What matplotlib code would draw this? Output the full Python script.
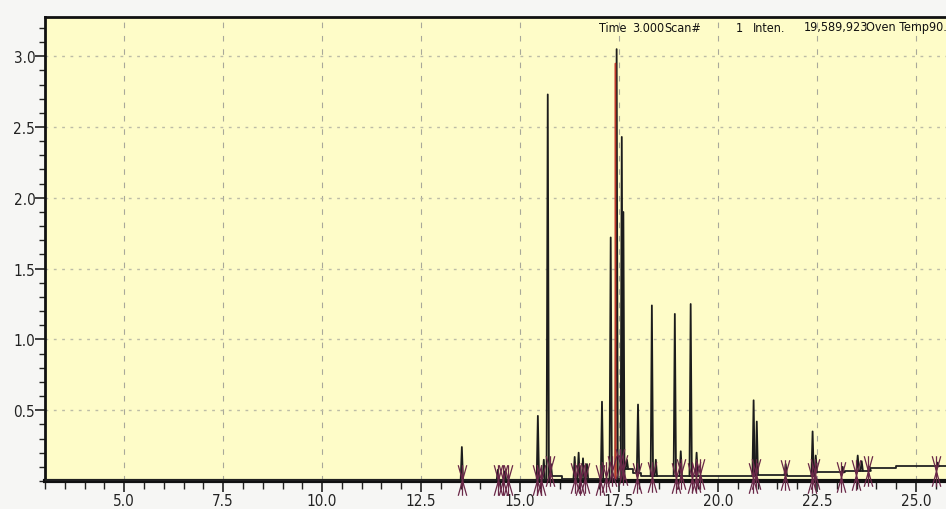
import matplotlib
matplotlib.use("Agg")
import matplotlib.pyplot as plt
import numpy as np
from matplotlib import font_manager
from matplotlib.path import Path
from matplotlib.ticker import MultipleLocator, FixedLocator, FormatStrFormatter

# peak table: retention time (min) and apex intensity (x 10^7 counts)
peak_rt = [13.53, 14.44, 14.62, 15.45, 15.60, 15.70, 15.78, 16.38, 16.48, 16.59, 16.69,
           17.07, 17.29, 17.44, 17.57, 17.61, 17.70, 17.98, 18.33, 18.43, 18.91, 19.06,
           19.31, 19.46, 20.90, 20.98, 21.71, 22.39, 22.47, 23.15, 23.53, 23.63, 23.83, 25.55]
peak_h = [0.24, 0.08, 0.07, 0.46, 0.15, 2.73, 0.12, 0.17, 0.20, 0.16, 0.12,
          0.56, 1.72, 3.05, 2.43, 1.90, 0.15, 0.54, 1.24, 0.15, 1.18, 0.21,
          1.25, 0.20, 0.57, 0.42, 0.12, 0.35, 0.18, 0.10, 0.18, 0.14, 0.10, 0.13]

# baseline drift (step levels start at given time)
base_t = [3.0, 15.72, 16.05, 17.62, 17.85, 18.05, 20.92, 21.75, 22.42, 23.20, 23.85, 24.50, 25.76]
base_lv = [0.004, 0.035, 0.015, 0.085, 0.06, 0.035, 0.045, 0.035, 0.061, 0.073, 0.090, 0.104, 0.104]

# integration start/stop marks
mark_rt = [13.53, 14.44, 14.57, 14.70, 15.43, 15.53, 15.76, 16.39, 16.52, 16.64, 17.02, 17.17,
           17.32, 17.52, 17.59, 17.95, 18.33, 18.94, 19.06, 19.34, 19.44, 19.55, 20.88, 20.96,
           21.69, 22.37, 22.45, 23.11, 23.48, 23.78, 25.50]
mark_y = [0.01, 0.01, 0.01, 0.01, 0.01, 0.01, 0.07, 0.02, 0.01, 0.02, 0.01, 0.03,
          0.07, 0.12, 0.08, 0.02, 0.03, 0.02, 0.05, 0.02, 0.03, 0.05, 0.02, 0.05,
          0.04, 0.02, 0.05, 0.03, 0.04, 0.07, 0.07]

# header line (text, left x in px)
header = ["Time", "3.000", "Scan#", "1", "Inten.", "19,589,923", "Oven Temp90.0"]
header_x = [599, 632, 664, 736, 753, 804, 866]

# look for a narrow face, the original uses a condensed sans
narrow = None
for f in font_manager.fontManager.ttflist:
    if ("Narrow" in f.name or "Condensed" in f.name or f.stretch in ("condensed", "semi-condensed")) \
            and f.style == "normal" and f.weight in (400, "normal", "regular"):
        narrow = f.fname
        break
if narrow:
    fp = font_manager.FontProperties(fname=narrow)
else:
    fp = font_manager.FontProperties(family=["Liberation Sans", "DejaVu Sans"])
plt.rcParams["font.family"] = ["Liberation Sans", "DejaVu Sans"]

W, H = 946, 510
fig = plt.figure(figsize=(W / 100, H / 100), dpi=100, facecolor="#f6f6f4")
ax = fig.add_axes([45 / W, 28 / H, 1 - 45 / W, 464 / H])
ax.set_facecolor("#fefcc8")

ax.set_xlim(3.0, 25.76)
ax.set_ylim(0, 3.277)

# baseline as steps
ax.step(base_t, base_lv, where="post", color="#222222", lw=1.3, zorder=3)

# peaks as narrow spikes sitting on the baseline
w = 0.03
bt = np.array(base_t)
for rt, h in zip(peak_rt, peak_h):
    b = base_lv[max(np.searchsorted(bt, rt, side="right") - 1, 0)]
    ax.plot([rt - w, rt, rt + w], [b, h, b], color="#1c1c1c", lw=1.3, zorder=4)

# red trace inside the main peak
ax.plot([17.40, 17.41, 17.42], [0.02, 2.95, 0.02], color="#c0392b", lw=1.0, zorder=5)

# integration markers
mk = Path([(0, -1), (0, 1), (-0.28, 1), (0.28, -1), (0.28, 1), (-0.28, -1)],
          [Path.MOVETO, Path.LINETO, Path.MOVETO, Path.LINETO, Path.MOVETO, Path.LINETO])
ax.plot(mark_rt, mark_y, ls="none", marker=mk, markersize=22, markeredgewidth=0.9,
        color="#6a2848", zorder=6, clip_on=False)

# ticks
ax.xaxis.set_major_locator(FixedLocator(np.arange(5.0, 25.1, 2.5)))
ax.xaxis.set_minor_locator(MultipleLocator(0.5))
ax.xaxis.set_major_formatter(FormatStrFormatter("%.1f"))
ax.yaxis.set_major_locator(FixedLocator([0.5, 1.0, 1.5, 2.0, 2.5, 3.0]))
ax.yaxis.set_minor_locator(MultipleLocator(0.1))
ax.yaxis.set_major_formatter(FormatStrFormatter("%.1f"))
ax.tick_params(axis="both", which="major", labelsize=10.5, colors="#222222", width=1.2)
ax.tick_params(axis="x", which="major", length=8, pad=1)
ax.tick_params(axis="y", which="major", length=7, pad=0)
ax.tick_params(axis="x", which="minor", length=6, width=1.0, color="#222222")
ax.tick_params(axis="y", which="minor", length=4, width=1.0, color="#222222")
for lab in ax.get_xticklabels() + ax.get_yticklabels():
    lab.set_fontproperties(fp)
    lab.set_fontsize(11)

# grid
for t in np.arange(5.0, 25.1, 2.5):
    ax.axvline(t, color="#a8a89a", lw=0.8, ls=(0, (5, 7)), zorder=1)
for v in [0.5, 1.0, 1.5, 2.0, 2.5, 3.0]:
    ax.axhline(v, color="#bcbca6", lw=1.0, ls=(0, (2, 4)), zorder=1)

for s in ["left", "bottom", "top"]:
    ax.spines[s].set_color("#111111")
ax.spines["left"].set_linewidth(2.0)
ax.spines["bottom"].set_linewidth(3.0)
ax.spines["top"].set_linewidth(2.0)
ax.spines["right"].set_visible(False)

hs = 9 if narrow else 8
for txt, px in zip(header, header_x):
    fig.text(px / W, 1 - 28 / H, txt, fontproperties=fp, fontsize=hs, color="#111111",
             va="center", ha="left")

fig.savefig("out.png", dpi=100, facecolor=fig.get_facecolor())
